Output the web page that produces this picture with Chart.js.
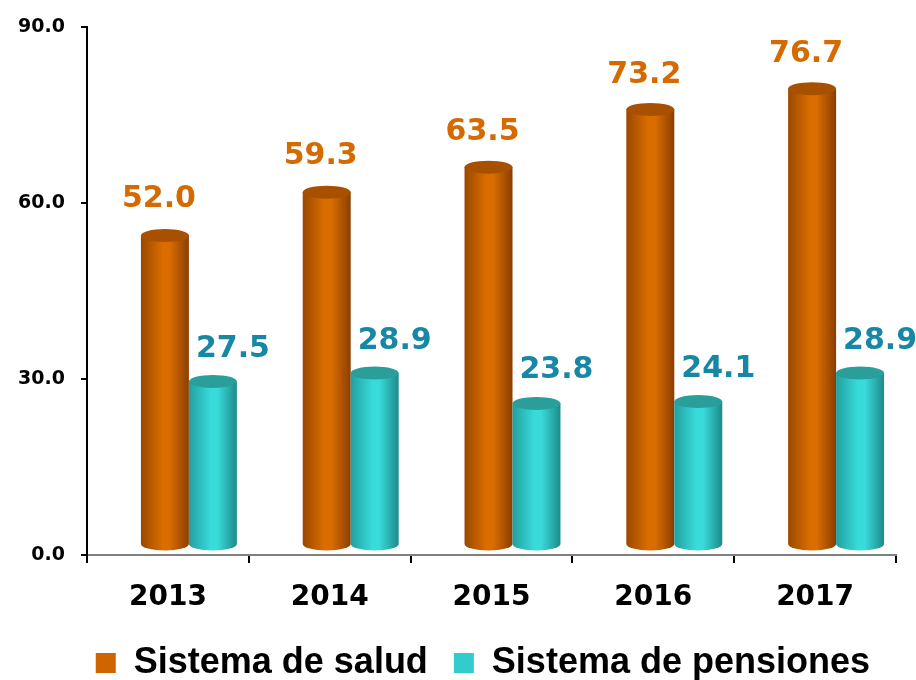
<!DOCTYPE html>
<html>
<head>
<meta charset="utf-8">
<script src="https://cdn.jsdelivr.net/npm/chart.js@4.4.1/dist/chart.umd.min.js"></script>
<style>
  html, body { margin: 0; padding: 0; background: #fff; }
  #wrap { width: 916px; height: 680px; position: relative; }
</style>
</head>
<body>
<div id="wrap"><canvas id="c" width="916" height="680"></canvas></div>
<script>
const categories = ['2013', '2014', '2015', '2016', '2017'];
const saludValues = [52.0, 59.3, 63.5, 73.2, 76.7];
const pensionesValues = [27.5, 28.9, 23.8, 24.1, 28.9];
const yTickValues = [0, 30, 60, 90];
const seriesNames = ['Sistema de salud', 'Sistema de pensiones'];

const NUM_FONT = 'DejaVu Sans';
const LEG_FONT = 'Liberation Sans';

const styles = [
  { legend: '#D06400', label: '#D46A00', edgeL: '#9A4800', mid: '#D96D00', edgeR: '#8A3E00', top: '#A65000', labelDx: -6, labelDy: -43 },
  { legend: '#33CCCC', label: '#1787A6', edgeL: '#22A0A0', mid: '#38DADA', edgeR: '#1E8A8A', top: '#2A9E9A', labelDx: 20, labelDy: -37 }
];

const cylinderPlugin = {
  id: 'cylinders',
  beforeDatasetsDraw(chart) {
    const ctx = chart.ctx;
    const DX = 21, DY = -10, K = 1.015;
    chart.data.datasets.forEach((ds, di) => {
      const meta = chart.getDatasetMeta(di);
      const st = styles[di];
      meta.data.forEach((bar, i) => {
        const p = bar.getProps(['x', 'y', 'base', 'width'], true);
        const w = p.width;
        const rx = w / 2, ry = 6.5;
        const cx = p.x + DX;
        const bottom = p.base + DY;
        const top = bottom - (p.base - p.y) * K;
        const x0 = cx - rx, x1 = cx + rx;
        const g = ctx.createLinearGradient(x0, 0, x1, 0);
        g.addColorStop(0, st.edgeL);
        g.addColorStop(0.45, st.mid);
        g.addColorStop(0.6, st.mid);
        g.addColorStop(1, st.edgeR);
        ctx.save();
        ctx.beginPath();
        ctx.moveTo(x0, top);
        ctx.lineTo(x0, bottom);
        ctx.ellipse(cx, bottom, rx, ry, 0, Math.PI, 0, true);
        ctx.lineTo(x1, top);
        ctx.closePath();
        ctx.fillStyle = g;
        ctx.fill();
        ctx.beginPath();
        ctx.ellipse(cx, top, rx, ry, 0, 0, Math.PI * 2);
        ctx.fillStyle = st.top;
        ctx.fill();
        ctx.restore();
      });
    });
    chart.data.datasets.forEach((ds, di) => {
      const meta = chart.getDatasetMeta(di);
      const st = styles[di];
      meta.data.forEach((bar, i) => {
        const p = bar.getProps(['x', 'y'], true);
        ctx.save();
        ctx.font = 'bold 30px "' + NUM_FONT + '"';
        ctx.fillStyle = st.label;
        ctx.textAlign = 'center';
        ctx.textBaseline = 'alphabetic';
        ctx.fillText(ds.data[i].toFixed(1), p.x + DX + st.labelDx, p.y + st.labelDy);
        ctx.restore();
      });
    });
    return false;
  }
};

new Chart(document.getElementById('c'), {
  type: 'bar',
  data: {
    labels: categories,
    datasets: [
      { label: seriesNames[0], data: saludValues, backgroundColor: styles[0].legend, borderWidth: 0 },
      { label: seriesNames[1], data: pensionesValues, backgroundColor: styles[1].legend, borderWidth: 0 }
    ]
  },
  options: {
    responsive: false,
    animation: false,
    devicePixelRatio: 1,
    categoryPercentage: 0.593,
    barPercentage: 1.0,
    layout: { padding: { left: 0, right: 20, top: 27, bottom: -11 } },
    plugins: {
      tooltip: { enabled: false },
      legend: {
        position: 'bottom',
        align: 'end',
        labels: {
          boxWidth: 20,
          boxHeight: 20,
          padding: 26,
          color: '#000',
          font: { family: LEG_FONT, weight: 'bold', size: 36 }
        }
      }
    },
    scales: {
      x: {
        grid: { display: true, drawOnChartArea: false, drawTicks: true, tickLength: 8, color: '#000', lineWidth: 2, offset: true },
        border: { display: true, color: '#808080', width: 2 },
        ticks: { color: '#000', padding: 18, font: { family: NUM_FONT, weight: 'bold', size: 28 } },
        afterFit(s) { s.height = 64; }
      },
      y: {
        min: 0,
        max: 90,
        afterBuildTicks(s) { s.ticks = yTickValues.map(v => ({ value: v })); },
        ticks: { color: '#000', padding: 16, callback: v => Number(v).toFixed(1), font: { family: NUM_FONT, weight: 'bold', size: 19 } },
        grid: { display: true, drawOnChartArea: false, drawTicks: true, tickLength: 6, color: '#000', lineWidth: 2 },
        border: { display: true, color: '#000', width: 2 },
        afterFit(s) { s.width = 87; }
      }
    }
  },
  plugins: [cylinderPlugin]
});
</script>
</body>
</html>
